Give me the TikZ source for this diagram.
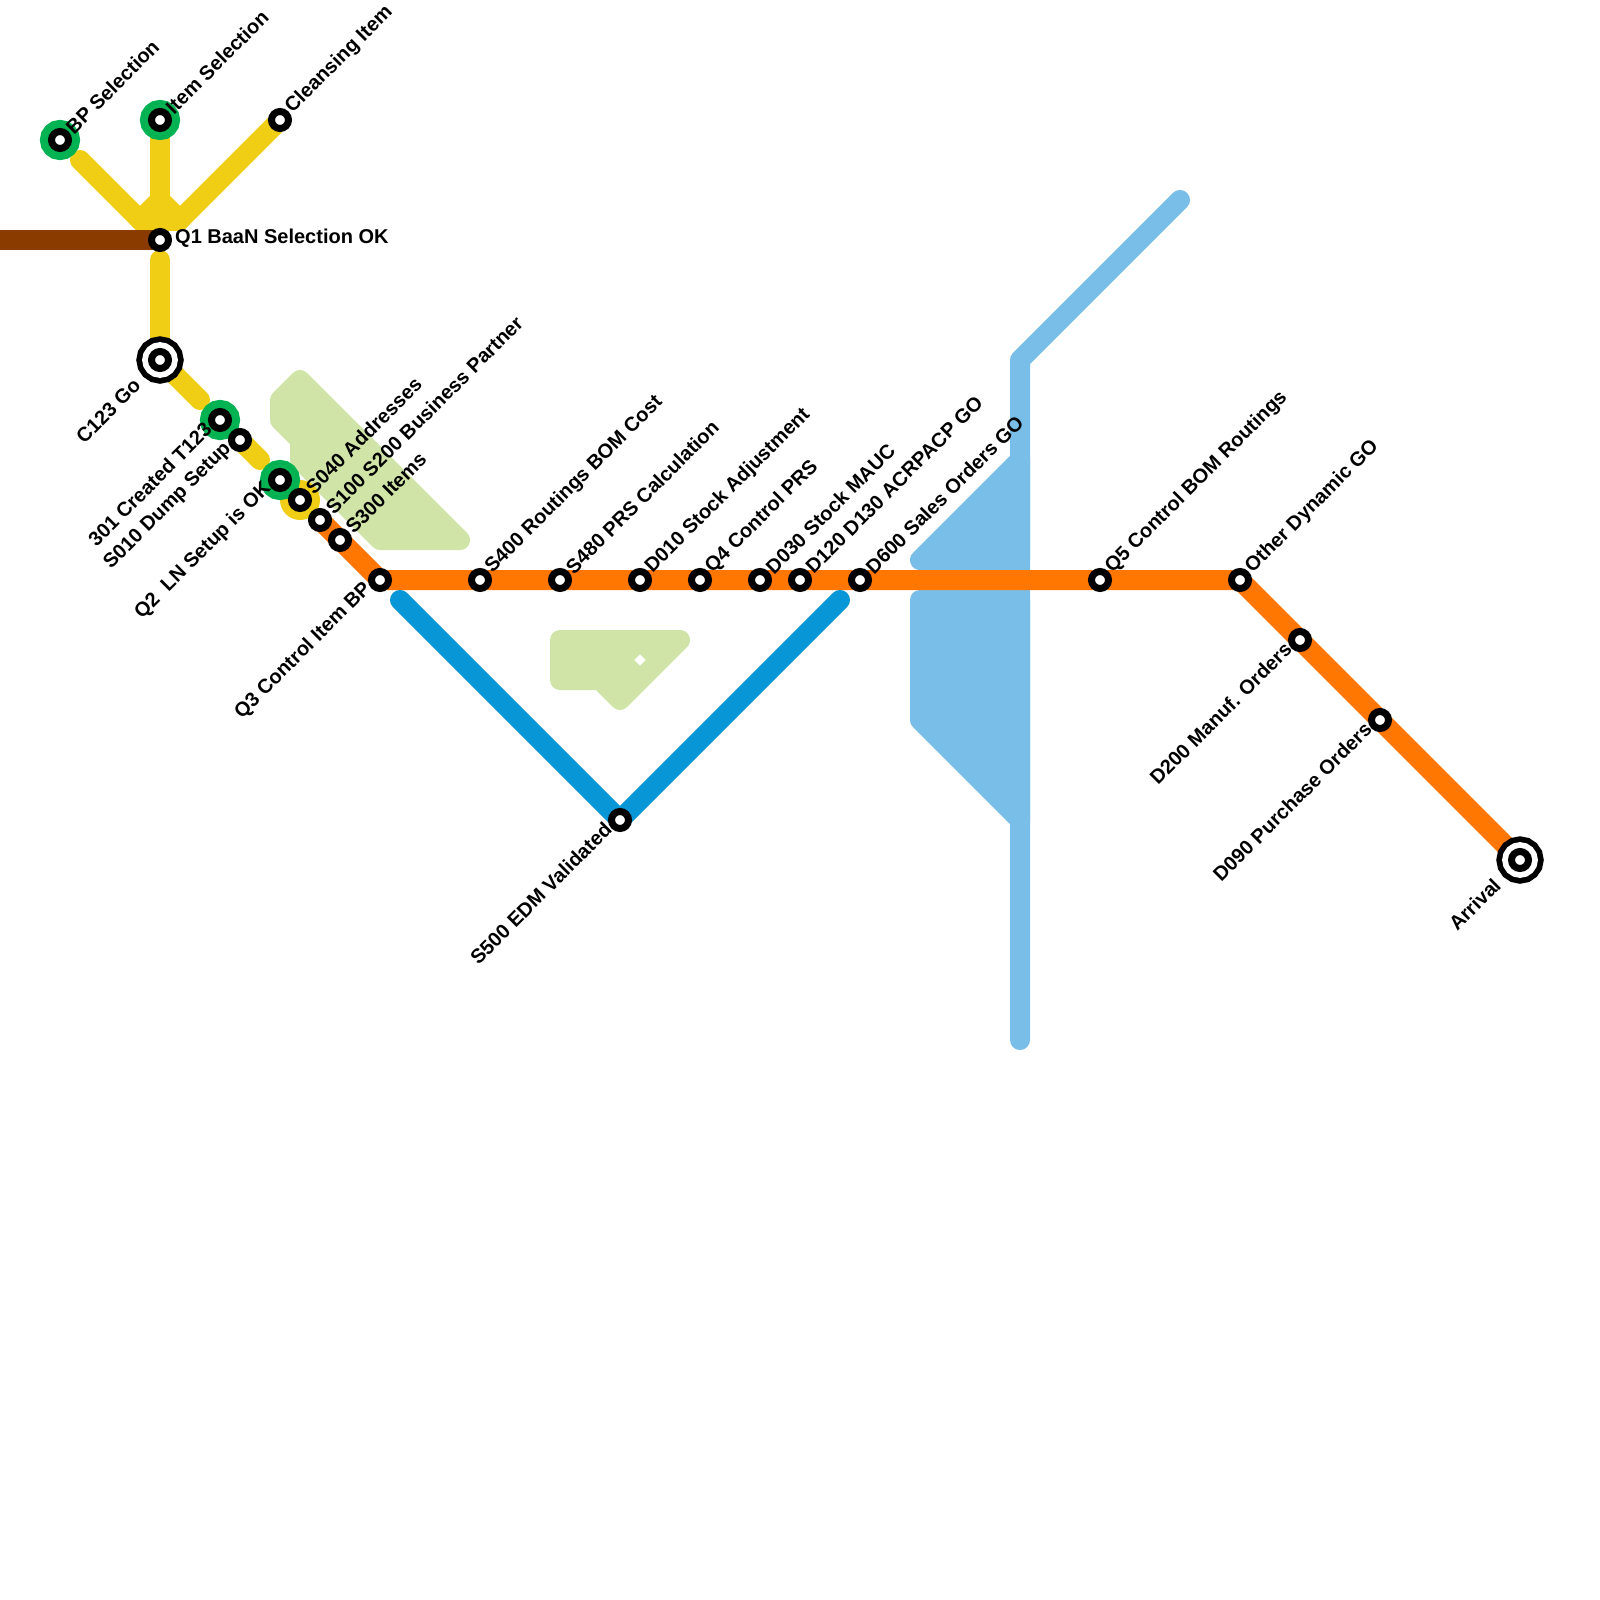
\documentclass[tikz,border=0pt]{standalone}
\usepackage{fontspec}
\setmainfont{Liberation Sans}
\usetikzlibrary{calc}
\pgfdeclarelayer{lines}
\pgfsetlayers{lines,main}
\definecolor{cyellow}{HTML}{F0CE15}
\definecolor{cgreen}{HTML}{00B251}
\definecolor{cbrown}{HTML}{893B00}
\definecolor{corange}{HTML}{FF7600}
\definecolor{cblue}{HTML}{0896D7}
\definecolor{clight}{HTML}{79BDE9}
\definecolor{cpale}{HTML}{D0E4A8}
\tikzset{
 stn/.style={circle,draw=black,fill=white,line width=7pt,minimum size=17pt,inner sep=0pt,outer sep=0pt},
 hub/.style={stn,preaction={draw=cgreen,line width=23pt}},
 term/.style={stn,preaction={draw=black,line width=30pt},preaction={draw=white,line width=18.5pt}},
 lup/.style={font=\bfseries\fontsize{20}{22}\selectfont,rotate=45,anchor=west,inner sep=0pt,outer sep=0pt,text=black},
 ldn/.style={font=\bfseries\fontsize{20}{22}\selectfont,rotate=45,anchor=east,inner sep=0pt,outer sep=0pt,text=black},
 rail/.style={line width=20pt,line cap=round,line join=round},
 area/.style={line width=20pt,line join=round,draw=#1,fill=#1},
}
\begin{document}
\begin{tikzpicture}[x=1pt,y=-1pt]
\useasboundingbox (0,0) rectangle (1600,1600);
\node[hub] (bp) at (60,140) {};
\node[hub] (item) at (160,120) {};
\node[stn] (clean) at (280,120) {};
\node[stn] (q1) at (160,240) {};
\node[term] (c123) at (160,360) {};
\node[hub] (t301) at (220,420) {};
\node[stn] (s010) at (240,440) {};
\node[hub] (q2) at (280,480) {};
\node[stn] (s040) at (300,500) {};
\node[stn] (s100) at (320,520) {};
\node[stn] (s300) at (340,540) {};
\node[stn] (q3) at (380,580) {};
\node[stn] (s400) at (480,580) {};
\node[stn] (s480) at (560,580) {};
\node[stn] (d010) at (640,580) {};
\node[stn] (q4) at (700,580) {};
\node[stn] (d030) at (760,580) {};
\node[stn] (d120) at (800,580) {};
\node[stn] (d600) at (860,580) {};
\node[stn] (q5) at (1100,580) {};
\node[stn] (other) at (1240,580) {};
\node[stn] (d200) at (1300,640) {};
\node[stn] (d090) at (1380,720) {};
\node[term] (arrival) at (1520,860) {};
\node[stn] (s500) at (620,820) {};
% free ends
\coordinate (bpa) at (80,160);
\coordinate (fork) at (160,200);
\coordinate (fl) at (140,220);
\coordinate (fr) at (180,220);
\coordinate (qa) at (160,260);
\coordinate (ca) at (200,400);
\coordinate (sa) at (260,460);
\coordinate (w) at (0,240);
\coordinate (ba) at (400,600);
\coordinate (bb) at (840,600);
\coordinate (la) at (1180,200);
\coordinate (lb) at (1020,360);
\coordinate (lc) at (1020,1040);
\begin{pgfonlayer}{lines}
\path[area=cpale] (300,380) -- (280,400) -- (280,420) -- (300,440) -- (300,460) -- (380,540) -- (460,540) -- cycle;
\path[area=cpale] (560,640) -- (680,640) -- (620,700) -- (600,680) -- (560,680) -- cycle;
\fill[white] (640,654.3) -- (645.7,660) -- (640,665.7) -- (634.3,660) -- cycle;
\path[area=clight] (1020,460) -- (920,560) -- (1020,560) -- cycle;
\path[area=clight] (920,600) -- (1020,600) -- (1020,820) -- (920,720) -- cycle;
\draw[rail,clight] (la) -- (lb) -- (lc);
\begin{scope}
\clip (0,0) rectangle (400,230);
\draw[rail,cyellow] (bpa) -- (q1.center);
\draw[rail,cyellow] (clean.center) -- (q1.center);
\draw[rail,cyellow,line cap=butt] (item.center) -- (q1.center);
\draw[rail,cyellow] (fork) -- (fl);
\draw[rail,cyellow] (fork) -- (fr);
\end{scope}
\draw[rail,cyellow] (qa) -- (c123.center);
\draw[rail,cyellow] (c123.center) -- (ca);
\draw[rail,cyellow] (s010.center) -- (sa);
\draw[rail,cyellow] (q2.center) -- (s040.center);
\fill[cyellow] (s040.center) circle[radius=20pt];
\draw[line width=20pt,cbrown] (w) -- (q1.center);
\draw[rail,corange] (s100.center) -- (q3.center) -- (other.center) -- (arrival.center);
\draw[rail,cblue] (ba) -- (s500.center) -- (bb);
\end{pgfonlayer}
% labels
\node[lup] (lbp) at ($(bp)+(9,-10)$) {BP Selection};
\node[lup] (litem) at ($(item)+(9,-10)$) {Item Selection};
\node[lup] (lclean) at ($(clean)+(9,-10)$) {Cleansing Item};
\node[lup] (ls040) at ($(s040)+(9,-10)$) {S040 Addresses};
\node[lup] (ls100) at ($(s100)+(9,-10)$) {S100 S200 Business Partner};
\node[lup] (ls300) at ($(s300)+(9,-10)$) {S300 Items};
\node[lup] (ls400) at ($(s400)+(9,-10)$) {S400 Routings BOM Cost};
\node[lup] (ls480) at ($(s480)+(9,-10)$) {S480 PRS Calculation};
\node[lup] (ld010) at ($(d010)+(9,-10)$) {D010 Stock Adjustment};
\node[lup] (lq4) at ($(q4)+(9,-10)$) {Q4 Control PRS};
\node[lup] (ld030) at ($(d030)+(9,-10)$) {D030 Stock MAUC};
\node[lup] (ld120) at ($(d120)+(9,-10)$) {D120 D130 ACRPACP GO};
\node[lup] (ld600) at ($(d600)+(9,-10)$) {D600 Sales Orders GO};
\node[lup] (lq5) at ($(q5)+(9,-10)$) {Q5 Control BOM Routings};
\node[lup] (lother) at ($(other)+(9,-10)$) {Other Dynamic GO};
\node[ldn] (lc123) at ($(c123)+(-23,22)$) {C123 Go};
\node[ldn] (l301) at ($(t301)+(-12,6)$) {301 Created T123};
\node[ldn] (ls010) at ($(s010)+(-12,6)$) {S010 Dump Setup};
\node[ldn] (lq2) at ($(q2)+(-12,6)$) {Q2 \ LN Setup is OK};
\node[ldn] (lq3) at ($(q3)+(-12,6)$) {Q3 Control Item BP};
\node[ldn] (ls500) at ($(s500)+(-12,6)$) {S500 EDM Validated};
\node[ldn] (ld200) at ($(d200)+(-12,6)$) {D200 Manuf. Orders};
\node[ldn] (ld090) at ($(d090)+(-12,6)$) {D090 Purchase Orders};
\node[ldn] (larr) at ($(arrival)+(-23,22)$) {Arrival};
\node[font=\bfseries\fontsize{20}{22}\selectfont,anchor=west,inner sep=0pt] (lq1) at (175,238.5) {Q1 BaaN Selection OK};
\end{tikzpicture}
\end{document}
